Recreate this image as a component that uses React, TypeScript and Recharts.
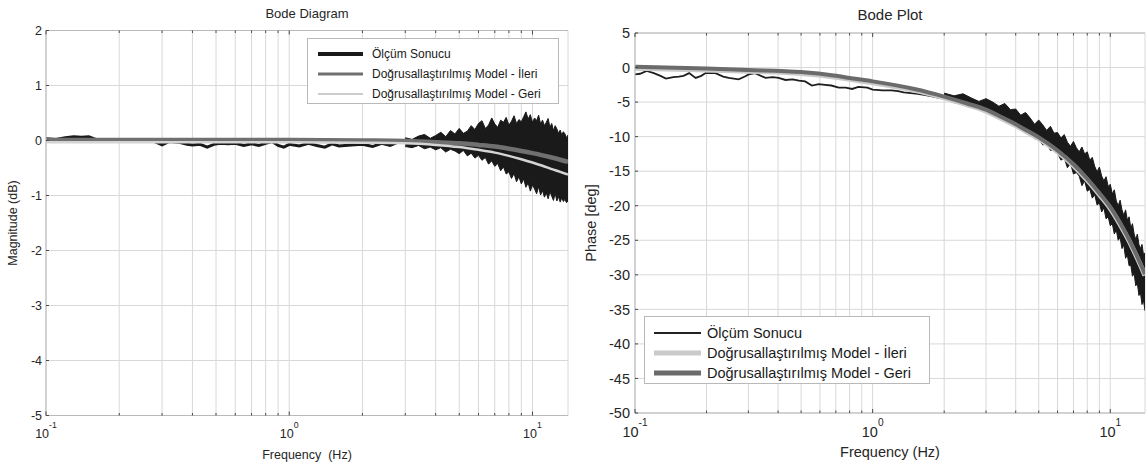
import { ComposedChart, Line, Area, XAxis, YAxis, CartesianGrid, Legend } from 'recharts'

const FONT = '"Liberation Sans", Arial, Helvetica, sans-serif'
const TEXT = '#262626'
const GRID = '#d8d8d8'
const BOX = '#b9b9b9'
const TICK = '#4a4a4a'

// log frequency axis: grid line at every 1..9 multiple, labels only on decades
const freqTicks = [0.1, 0.2, 0.3, 0.4, 0.5, 0.6, 0.7, 0.8, 0.9, 1, 2, 3, 4, 5, 6, 7, 8, 9, 10]
const decadeTicks = [0.1, 1, 10]
const decadeExps = ['-1', '0', '1']

const magTicks = [2, 1, 0, -1, -2, -3, -4, -5]
const phaseTicks = [5, 0, -5, -10, -15, -20, -25, -30, -35, -40, -45, -50]

// magnitude, measured: low-frequency trace
const magTraceFreq = [0.1, 0.11, 0.12, 0.13, 0.14, 0.15, 0.16, 0.18, 0.2, 0.22, 0.25, 0.28, 0.3, 0.32, 0.35, 0.38, 0.4, 0.43, 0.46, 0.49, 0.52, 0.56, 0.6, 0.65, 0.7, 0.75, 0.8, 0.85, 0.9, 0.95, 1.0, 1.1, 1.2, 1.3, 1.4, 1.5, 1.6, 1.8, 2.0, 2.2, 2.4, 2.6, 2.8, 3.0]
const magTraceDb = [0.03, 0.02, 0.05, 0.07, 0.06, 0.07, 0.02, 0.0, 0.0, 0.0, -0.01, -0.02, -0.08, -0.02, -0.03, -0.07, -0.08, -0.07, -0.12, -0.07, -0.05, -0.06, -0.05, -0.09, -0.06, -0.09, -0.05, -0.02, -0.09, -0.12, -0.07, -0.1, -0.05, -0.09, -0.12, -0.06, -0.1, -0.08, -0.07, -0.11, -0.05, -0.09, -0.03, -0.03]

// magnitude, measured: noise envelope above 3 Hz
const magBandFreq = [3.0, 3.2, 3.4, 3.6, 3.8, 4.0, 4.2, 4.4, 4.6, 4.8, 5.0, 5.2, 5.4, 5.6, 5.8, 6.0, 6.2, 6.4, 6.6, 6.8, 7.0, 7.2, 7.4, 7.6, 7.8, 8.0, 8.2, 8.4, 8.6, 8.8, 9.0, 9.2, 9.4, 9.6, 9.8, 10.0, 10.2, 10.4, 10.6, 10.8, 11.0, 11.2, 11.4, 11.6, 11.8, 12.0, 12.2, 12.4, 12.6, 12.8, 13.0, 13.2, 13.4, 13.6, 13.8, 14.0]
const magBandHi = [0.05, 0.02, 0.08, 0.11, 0.04, 0.09, 0.15, 0.07, 0.18, 0.12, 0.22, 0.13, 0.17, 0.27, 0.2, 0.31, 0.36, 0.22, 0.28, 0.41, 0.3, 0.24, 0.37, 0.33, 0.42, 0.28, 0.35, 0.45, 0.31, 0.38, 0.34, 0.43, 0.52, 0.39, 0.47, 0.33, 0.41, 0.36, 0.46, 0.3, 0.37, 0.27, 0.33, 0.4, 0.24, 0.31, 0.18, 0.27, 0.21, 0.13, 0.19, 0.1, 0.16, 0.12, 0.05, 0.1]
const magBandLo = [-0.11, -0.13, -0.09, -0.15, -0.12, -0.17, -0.13, -0.21, -0.16, -0.19, -0.24, -0.18, -0.28, -0.23, -0.32, -0.27, -0.36, -0.31, -0.43, -0.37, -0.47, -0.42, -0.55, -0.48, -0.61, -0.57, -0.69, -0.6, -0.75, -0.66, -0.79, -0.7, -0.85, -0.77, -0.92, -0.81, -0.88, -0.97, -0.84, -0.99, -0.91, -1.03, -0.95, -1.06, -0.93, -1.01, -1.09, -0.96, -1.1, -1.02, -1.12, -1.04, -1.11, -1.07, -1.13, -1.1]

// magnitude, linearised models
const magModelFreq = [0.1, 0.5, 1, 2, 3, 4, 5, 6, 7, 8, 9, 10, 11, 12, 13, 14]
const magIleri = [0.01, 0.01, 0.01, 0.0, -0.01, -0.03, -0.05, -0.08, -0.11, -0.15, -0.19, -0.23, -0.27, -0.31, -0.35, -0.39]
const magGeri = [-0.03, -0.03, -0.03, -0.04, -0.05, -0.08, -0.12, -0.17, -0.22, -0.28, -0.34, -0.4, -0.46, -0.52, -0.57, -0.62]

// phase, measured: low-frequency trace
const phaseTraceFreq = [0.1, 0.105, 0.112, 0.12, 0.128, 0.135, 0.145, 0.153, 0.16, 0.169, 0.18, 0.19, 0.198, 0.218, 0.235, 0.248, 0.273, 0.29, 0.301, 0.32, 0.354, 0.38, 0.402, 0.43, 0.46, 0.49, 0.52, 0.555, 0.594, 0.63, 0.67, 0.72, 0.77, 0.82, 0.87, 0.95, 1.0, 1.1, 1.2, 1.28, 1.35, 1.45, 1.55, 1.67, 1.8, 1.9, 2.0]
const phaseTraceDeg = [-1.0, -0.9, -0.5, -0.8, -1.2, -1.6, -1.4, -1.3, -1.2, -0.8, -1.5, -1.2, -0.8, -0.8, -1.3, -1.5, -1.7, -1.3, -1.0, -0.8, -1.5, -1.4, -1.5, -1.8, -1.7, -1.9, -2.0, -2.6, -2.4, -2.5, -2.6, -2.9, -2.9, -3.1, -2.8, -2.9, -3.2, -3.3, -3.3, -3.4, -3.6, -3.7, -3.8, -4.0, -4.2, -4.4, -4.2]

// phase, measured: noise envelope above 2 Hz
const phaseBandFreq = [2.0, 2.2, 2.4, 2.6, 2.8, 3.0, 3.2, 3.4, 3.6, 3.8, 4.0, 4.2, 4.4, 4.6, 4.8, 5.0, 5.2, 5.4, 5.6, 5.8, 6.0, 6.2, 6.4, 6.6, 6.8, 7.0, 7.2, 7.4, 7.6, 7.8, 8.0, 8.2, 8.4, 8.6, 8.8, 9.0, 9.2, 9.4, 9.6, 9.8, 10.0, 10.2, 10.4, 10.6, 10.8, 11.0, 11.2, 11.4, 11.6, 11.8, 12.0, 12.2, 12.4, 12.6, 12.8, 13.0, 13.2, 13.4, 13.6, 13.8, 14.0]
const phaseBandHi = [-3.7, -4.1, -3.8, -4.4, -4.9, -4.5, -5.0, -5.6, -5.2, -6.1, -6.0, -6.9, -6.5, -7.3, -8.2, -7.6, -8.3, -9.1, -8.5, -9.5, -9.4, -10.2, -9.7, -10.8, -11.4, -10.7, -11.6, -12.2, -11.5, -12.5, -12.2, -13.4, -13.0, -14.3, -15.1, -14.4, -15.7, -16.4, -15.8, -17.2, -16.9, -18.3, -17.7, -19.3, -20.0, -19.2, -20.6, -21.4, -20.6, -22.1, -21.6, -23.2, -22.6, -24.1, -24.9, -24.1, -25.6, -26.2, -25.6, -27.1, -26.8]
const phaseBandLo = [-4.5, -5.1, -5.0, -5.7, -5.6, -6.4, -6.5, -7.0, -7.8, -7.7, -8.4, -8.6, -9.5, -9.4, -10.3, -10.4, -11.2, -11.0, -12.0, -11.9, -12.4, -13.4, -13.1, -14.5, -13.9, -15.4, -15.2, -15.7, -17.1, -16.4, -17.9, -17.6, -18.9, -18.4, -19.9, -19.6, -20.9, -20.3, -21.9, -21.6, -22.9, -22.6, -24.1, -23.5, -25.0, -24.6, -26.2, -25.7, -27.6, -27.1, -28.7, -28.6, -30.2, -29.8, -31.6, -31.2, -33.0, -32.6, -34.3, -33.7, -35.2]

// phase, linearised models
const phaseModelFreq = [0.1, 0.2, 0.3, 0.5, 0.7, 0.8, 1, 1.5, 2, 2.5, 3, 3.5, 4, 4.5, 5, 6, 7, 8, 9, 10, 11, 12, 13, 14]
const phaseIleri = [-0.1, -0.35, -0.55, -0.85, -1.4, -1.7, -2.2, -3.3, -4.4, -5.4, -6.3, -7.4, -8.4, -9.4, -10.3, -12.2, -14.2, -16.3, -18.4, -20.4, -22.7, -25.1, -27.6, -30.1]
const phaseGeri = [0.1, -0.15, -0.35, -0.65, -1.2, -1.5, -2.0, -3.1, -4.2, -5.2, -6.1, -7.2, -8.2, -9.2, -10.1, -12.0, -14.0, -16.1, -18.2, -20.2, -22.5, -24.9, -27.4, -29.9]

const LBL_OLCUM = 'Ölçüm Sonucu'
const LBL_ILERI = 'Doğrusallaştırılmış Model - İleri'
const LBL_GERI = 'Doğrusallaştırılmış Model - Geri'

const pair = (xs: number[], ys: number[]) => xs.map((f, i) => ({ f, v: ys[i] }))
const band = (xs: number[], lo: number[], hi: number[]) => xs.map((f, i) => ({ f, band: [lo[i], hi[i]] }))

const magTrace = pair(magTraceFreq, magTraceDb)
const magBand = band(magBandFreq, magBandLo, magBandHi)
const magIleriData = pair(magModelFreq, magIleri)
const magGeriData = pair(magModelFreq, magGeri)

const phaseTrace = pair(phaseTraceFreq, phaseTraceDeg)
const phaseBand = band(phaseBandFreq, phaseBandLo, phaseBandHi)
const phaseIleriData = pair(phaseModelFreq, phaseIleri)
const phaseGeriData = pair(phaseModelFreq, phaseGeri)

function FreqTick(props: any) {
  const { x, y, payload, side, fontSize, baseline } = props
  const i = decadeTicks.indexOf(payload.value)
  const len = i < 0 ? 2.5 : 4
  const dir = side === 'top' ? 1 : -1
  return (
    <g>
      <line x1={x} x2={x} y1={y} y2={y + dir * len} stroke={TICK} strokeWidth={1} />
      {side === 'bottom' && i >= 0 && (
        <text x={x} y={y + baseline} textAnchor="middle" fontSize={fontSize} fill={TEXT} fontFamily={FONT}>
          10
          <tspan dy={-fontSize * 0.75} fontSize={fontSize * 0.7}>
            {decadeExps[i]}
          </tspan>
        </text>
      )}
    </g>
  )
}

function LevelTick(props: any) {
  const { x, y, payload, side, fontSize, gap } = props
  const dir = side === 'left' ? 1 : -1
  return (
    <g>
      <line x1={x} x2={x + dir * 3} y1={y} y2={y} stroke={TICK} strokeWidth={1} />
      {side === 'left' && (
        <text x={x - gap} y={y} dy="0.36em" textAnchor="end" fontSize={fontSize} fill={TEXT} fontFamily={FONT}>
          {payload.value}
        </text>
      )}
    </g>
  )
}

type LegendItem = { label: string; color: string; width: number }

function LegendBox({ items, width, height, padTop, rowH, lineX, lineLen, textX, fontSize }: any) {
  return (
    <div
      style={{
        position: 'relative',
        width,
        height,
        boxSizing: 'border-box',
        border: `1px solid ${BOX}`,
        background: '#fff',
        fontFamily: FONT,
        fontSize,
        color: '#1a1a1a',
      }}
    >
      {items.map((it: LegendItem, i: number) => (
        <div
          key={it.label}
          style={{ position: 'absolute', left: 0, top: padTop + i * rowH, height: rowH, display: 'flex', alignItems: 'center', whiteSpace: 'nowrap' }}
        >
          <svg width={lineX + lineLen} height={rowH} style={{ display: 'block' }}>
            <line x1={lineX} x2={lineX + lineLen} y1={rowH / 2} y2={rowH / 2} stroke={it.color} strokeWidth={it.width} />
          </svg>
          <span style={{ marginLeft: textX - lineX - lineLen }}>{it.label}</span>
        </div>
      ))}
    </div>
  )
}

const magLegend: LegendItem[] = [
  { label: LBL_OLCUM, color: '#1a1a1a', width: 4 },
  { label: LBL_ILERI, color: '#707070', width: 3 },
  { label: LBL_GERI, color: '#cccccc', width: 2 },
]

const phaseLegend: LegendItem[] = [
  { label: LBL_OLCUM, color: '#222222', width: 2 },
  { label: LBL_ILERI, color: '#cacaca', width: 5 },
  { label: LBL_GERI, color: '#6b6b6b', width: 5 },
]

function MagnitudeChart() {
  const fs = 12.5
  return (
    <ComposedChart width={580} height={466} margin={{ top: 0, right: 12, bottom: 0, left: 0 }}>
      <CartesianGrid stroke={GRID} strokeWidth={1} />
      <XAxis
        type="number"
        dataKey="f"
        scale="log"
        domain={[0.1, 14]}
        allowDataOverflow
        ticks={freqTicks}
        interval={0}
        height={50.5}
        tickSize={0}
        tickMargin={0}
        tickLine={false}
        axisLine={{ stroke: BOX }}
        tick={(p: any) => <FreqTick {...p} side="bottom" fontSize={fs} baseline={22} />}
        label={{ value: 'Frequency\u00a0\u00a0(Hz)', position: 'insideBottom', offset: 7, fill: TEXT, fontSize: fs, fontFamily: FONT }}
      />
      <XAxis
        xAxisId="top"
        orientation="top"
        type="number"
        dataKey="f"
        scale="log"
        domain={[0.1, 14]}
        allowDataOverflow
        ticks={freqTicks}
        interval={0}
        height={30.5}
        tickSize={0}
        tickMargin={0}
        tickLine={false}
        axisLine={{ stroke: BOX }}
        tick={(p: any) => <FreqTick {...p} side="top" fontSize={fs} />}
        label={{ value: 'Bode Diagram', position: 'insideTop', offset: 9, fill: TEXT, fontSize: 13, fontFamily: FONT }}
      />
      <YAxis
        type="number"
        domain={[-5, 2]}
        allowDataOverflow
        ticks={magTicks}
        interval={0}
        width={46}
        tickSize={0}
        tickMargin={0}
        tickLine={false}
        axisLine={{ stroke: BOX }}
        tick={(p: any) => <LevelTick {...p} side="left" fontSize={fs} gap={4} />}
        label={{ value: 'Magnitude (dB)', angle: -90, position: 'insideLeft', offset: 13, fill: TEXT, fontSize: fs, fontFamily: FONT, style: { textAnchor: 'middle' } }}
      />
      <YAxis
        yAxisId="right"
        orientation="right"
        type="number"
        domain={[-5, 2]}
        allowDataOverflow
        ticks={magTicks}
        interval={0}
        width={0}
        tickSize={0}
        tickMargin={0}
        tickLine={false}
        axisLine={{ stroke: BOX }}
        tick={(p: any) => <LevelTick {...p} side="right" fontSize={fs} gap={4} />}
      />
      <Line data={magTrace} dataKey="v" type="linear" stroke="#1a1a1a" strokeWidth={3} dot={false} activeDot={false} isAnimationActive={false} />
      <Area data={magBand} dataKey="band" type="linear" stroke="#1a1a1a" strokeWidth={1} fill="#1a1a1a" fillOpacity={1} dot={false} activeDot={false} isAnimationActive={false} />
      <Line data={magIleriData} dataKey="v" type="monotone" stroke="#707070" strokeWidth={4.5} dot={false} activeDot={false} isAnimationActive={false} />
      <Line data={magGeriData} dataKey="v" type="monotone" stroke="#d4d4d4" strokeWidth={2.5} dot={false} activeDot={false} isAnimationActive={false} />
      <Legend
        layout="horizontal"
        verticalAlign="middle"
        align="center"
        wrapperStyle={{ left: 307, top: 38, width: 'auto' }}
        content={() => (
          <LegendBox items={magLegend} width={252} height={66} padTop={5} rowH={20} lineX={10} lineLen={45} textX={64} fontSize={12} />
        )}
      />
    </ComposedChart>
  )
}

function PhaseChart() {
  const fs = 14.5
  return (
    <ComposedChart width={567} height={466} margin={{ top: 0, right: 2, bottom: 0, left: 0 }}>
      <CartesianGrid stroke={GRID} strokeWidth={1} />
      <XAxis
        type="number"
        dataKey="f"
        scale="log"
        domain={[0.1, 14]}
        allowDataOverflow
        ticks={freqTicks}
        interval={0}
        height={53}
        tickSize={0}
        tickMargin={0}
        tickLine={false}
        axisLine={{ stroke: BOX }}
        tick={(p: any) => <FreqTick {...p} side="bottom" fontSize={fs} baseline={24} />}
        label={{ value: 'Frequency (Hz)', position: 'insideBottom', offset: 9, fill: TEXT, fontSize: fs, fontFamily: FONT }}
      />
      <XAxis
        xAxisId="top"
        orientation="top"
        type="number"
        dataKey="f"
        scale="log"
        domain={[0.1, 14]}
        allowDataOverflow
        ticks={freqTicks}
        interval={0}
        height={33}
        tickSize={0}
        tickMargin={0}
        tickLine={false}
        axisLine={{ stroke: BOX }}
        tick={(p: any) => <FreqTick {...p} side="top" fontSize={fs} />}
        label={{ value: 'Bode Plot', position: 'insideTop', offset: 9, fill: TEXT, fontSize: 15, fontFamily: FONT }}
      />
      <YAxis
        type="number"
        domain={[-50, 5]}
        allowDataOverflow
        ticks={phaseTicks}
        interval={0}
        width={55}
        tickSize={0}
        tickMargin={0}
        tickLine={false}
        axisLine={{ stroke: BOX }}
        tick={(p: any) => <LevelTick {...p} side="left" fontSize={fs} gap={5} />}
        label={{ value: 'Phase [deg]', angle: -90, position: 'insideLeft', offset: 11, fill: TEXT, fontSize: fs, fontFamily: FONT, style: { textAnchor: 'middle' } }}
      />
      <YAxis
        yAxisId="right"
        orientation="right"
        type="number"
        domain={[-50, 5]}
        allowDataOverflow
        ticks={phaseTicks}
        interval={0}
        width={0}
        tickSize={0}
        tickMargin={0}
        tickLine={false}
        axisLine={{ stroke: BOX }}
        tick={(p: any) => <LevelTick {...p} side="right" fontSize={fs} gap={5} />}
      />
      <Line data={phaseTrace} dataKey="v" type="linear" stroke="#1e1e1e" strokeWidth={1.8} dot={false} activeDot={false} isAnimationActive={false} />
      <Area data={phaseBand} dataKey="band" type="linear" stroke="#1a1a1a" strokeWidth={1} fill="#1a1a1a" fillOpacity={1} dot={false} activeDot={false} isAnimationActive={false} />
      <Line data={phaseIleriData} dataKey="v" type="monotone" stroke="#cacaca" strokeWidth={5} dot={false} activeDot={false} isAnimationActive={false} />
      <Line data={phaseGeriData} dataKey="v" type="monotone" stroke="#6b6b6b" strokeWidth={4} dot={false} activeDot={false} isAnimationActive={false} />
      <Legend
        layout="horizontal"
        verticalAlign="middle"
        align="center"
        wrapperStyle={{ left: 64, top: 316, width: 'auto' }}
        content={() => (
          <LegendBox items={phaseLegend} width={286} height={68} padTop={6} rowH={20} lineX={9} lineLen={47} textX={62} fontSize={14.5} />
        )}
      />
    </ComposedChart>
  )
}

export default function App() {
  return (
    <div style={{ position: 'absolute', left: 0, top: 0, width: 1147, height: 466, background: '#fff', fontFamily: FONT, overflow: 'hidden' }}>
      <div style={{ position: 'absolute', left: 0, top: 0 }}>
        <MagnitudeChart />
      </div>
      <div style={{ position: 'absolute', left: 580, top: 0 }}>
        <PhaseChart />
      </div>
    </div>
  )
}
